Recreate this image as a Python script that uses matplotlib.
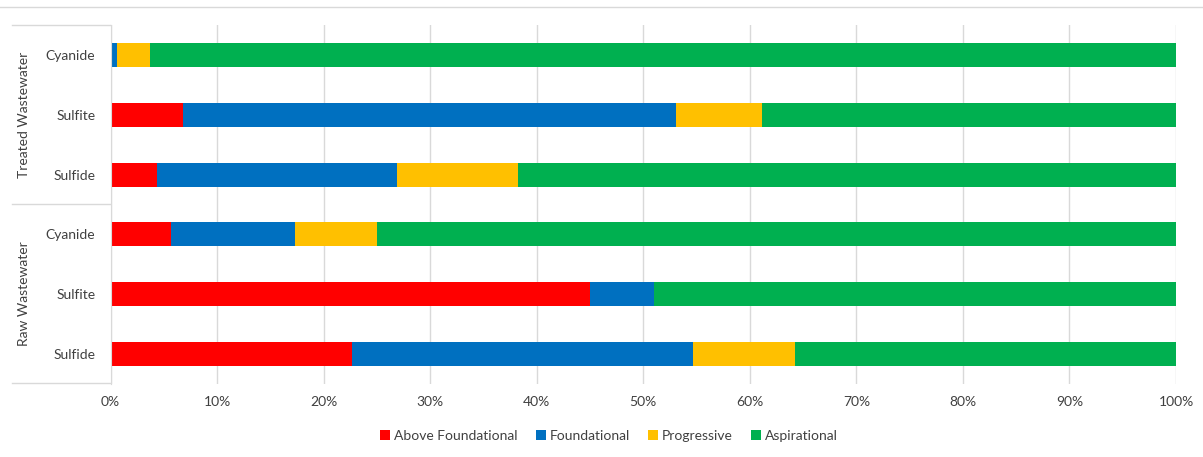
import matplotlib.pyplot as plt
import numpy as np

plt.rcParams['font.family'] = ['Lato', 'DejaVu Sans']

groups = ['Raw Wastewater', 'Treated Wastewater']
categories = ['Sulfide', 'Sulfite', 'Cyanide', 'Sulfide', 'Sulfite', 'Cyanide']  # bottom to top
series = ['Above Foundational', 'Foundational', 'Progressive', 'Aspirational']
colors = ['#FF0000', '#0070C0', '#FFC000', '#00B050']

above_foundational = [22.7, 45.0, 5.7, 4.4, 6.85, 0.0]
foundational = [32.0, 6.0, 11.6, 22.5, 46.2, 0.6]
progressive = [9.5, 0.0, 7.7, 11.3, 8.1, 3.1]
aspirational = [35.8, 49.0, 75.0, 61.8, 38.85, 96.3]

values = [above_foundational, foundational, progressive, aspirational]

fig = plt.figure(figsize=(12.03, 4.57), dpi=100)
ax = fig.add_axes([110.5 / 1203, 1 - 384 / 457, (1176 - 110.5) / 1203, 359 / 457])

y = np.arange(len(categories))
left = np.zeros(len(categories))
for name, vals, c in zip(series, values, colors):
    vals = np.array(vals)
    ax.barh(y, vals, left=left, height=0.4, color=c, label=name)
    left += vals

ax.set_xlim(0, 100)
ax.set_ylim(-0.5, len(categories) - 0.5)
ax.set_xticks(np.arange(0, 101, 10))
ax.set_xticklabels([f'{v}%' for v in range(0, 101, 10)], fontsize=10, color='#404040')
ax.set_yticks(y)
ax.set_yticklabels(categories, fontsize=10, color='#404040')
ax.tick_params(length=0, axis='both')
ax.tick_params(axis='x', pad=9)
ax.tick_params(axis='y', pad=11)
ax.grid(axis='x', color='#d9d9d9', linewidth=1)
ax.set_axisbelow(True)
for s in ['top', 'right', 'bottom']:
    ax.spines[s].set_visible(False)
ax.spines['left'].set_color('#d9d9d9')

# group labels and separators of the two-level category axis
for yl in [25, 204, 383]:
    fig.add_artist(plt.Line2D([12 / 1203, 110 / 1203], [1 - yl / 457] * 2, color='#d9d9d9', lw=1))
fig.text(24 / 1203, 1 - 115 / 457, groups[1], rotation=90, ha='center', va='center', fontsize=10, color='#404040')
fig.text(24 / 1203, 1 - 294 / 457, groups[0], rotation=90, ha='center', va='center', fontsize=10, color='#404040')

# chart border top line
fig.add_artist(plt.Line2D([0, 1], [1 - 7 / 457] * 2, color='#d9d9d9', lw=1))

fig.legend(*ax.get_legend_handles_labels(), loc='center', bbox_to_anchor=(609 / 1203, 1 - 436 / 457),
           ncol=4, frameon=False, fontsize=10, handlelength=0.7, handleheight=0.7,
           handletextpad=0.3, columnspacing=1.3, labelcolor='#404040')

fig.savefig('out.png', dpi=100)
